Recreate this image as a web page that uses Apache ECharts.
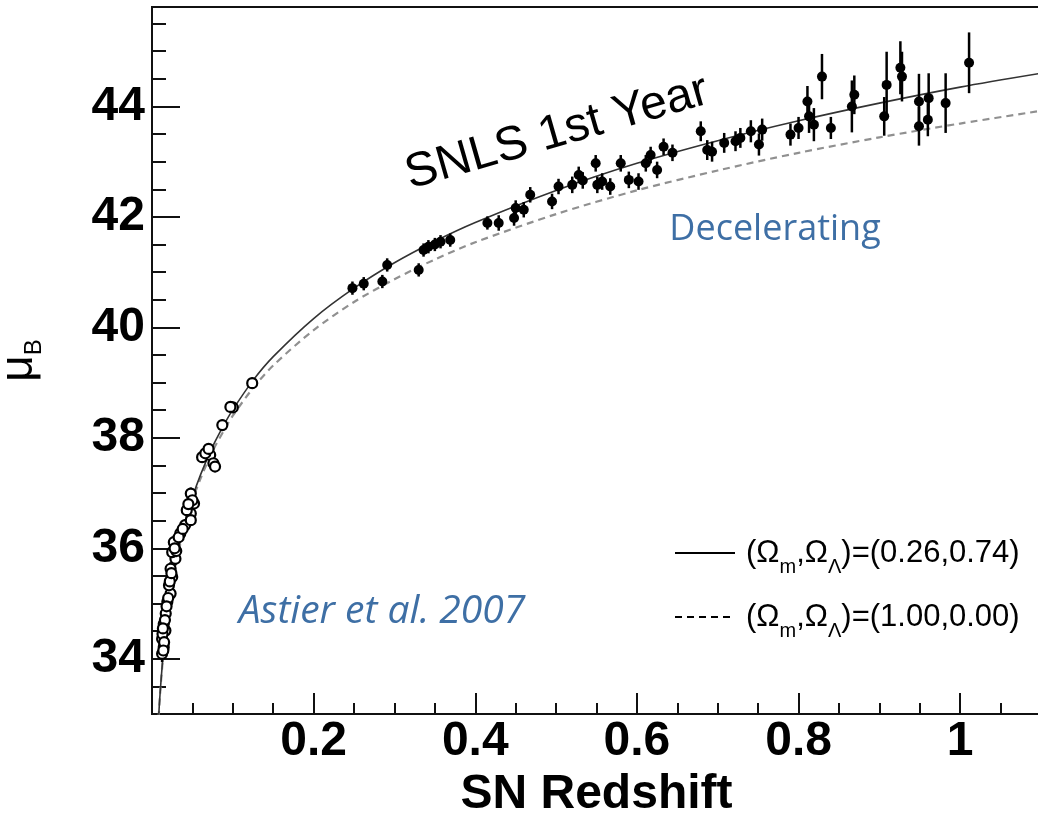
<!DOCTYPE html>
<html>
<head>
<meta charset="utf-8">
<script src="https://cdn.jsdelivr.net/npm/echarts@6/dist/echarts.min.js"></script>
<style>
  html, body { margin: 0; padding: 0; background: #fff; }
  #chart { width: 1038px; height: 815px; }
</style>
</head>
<body>
<div id="chart"></div>
<script>
// model curves
const curveZ = [0.005, 0.008, 0.01, 0.013, 0.016, 0.02, 0.025, 0.03, 0.04, 0.05, 0.06, 0.075, 0.09, 0.1, 0.125, 0.15, 0.2, 0.25, 0.3, 0.35, 0.4, 0.5, 0.6, 0.7, 0.8, 0.9, 1.0, 1.1];
const muAccel = [31.85, 32.88, 33.37, 33.94, 34.40, 34.89, 35.38, 35.79, 36.43, 36.92, 37.33, 37.84, 38.26, 38.51, 39.04, 39.47, 40.16, 40.71, 41.17, 41.56, 41.90, 42.48, 42.97, 43.38, 43.74, 44.06, 44.35, 44.60];
const muDecel = [31.85, 32.87, 33.36, 33.92, 34.38, 34.87, 35.35, 35.75, 36.37, 36.87, 37.26, 37.76, 38.16, 38.40, 38.90, 39.31, 39.95, 40.46, 40.87, 41.23, 41.54, 42.05, 42.48, 42.84, 43.16, 43.44, 43.69, 43.92];

// supernovae: [redshift, mu_B, error]
const nearbySN = [
  [0.0125, 34.09, 0.15], [0.0145, 34.21, 0.15], [0.0125, 34.36, 0.15], [0.0166, 34.51, 0.15],
  [0.0145, 34.63, 0.15], [0.017, 34.82, 0.14], [0.019, 35.03, 0.14], [0.023, 35.18, 0.12],
  [0.021, 35.33, 0.12], [0.025, 35.48, 0.12], [0.023, 35.63, 0.12], [0.029, 35.81, 0.12],
  [0.025, 35.93, 0.12], [0.027, 36.11, 0.12], [0.035, 36.27, 0.11], [0.041, 36.42, 0.11],
  [0.048, 36.63, 0.11], [0.052, 36.81, 0.11], [0.048, 36.99, 0.11], [0.043, 36.69, 0.1],
  [0.050, 36.87, 0.1], [0.048, 36.51, 0.1], [0.062, 37.65, 0.1], [0.072, 37.69, 0.1],
  [0.076, 37.54, 0.1], [0.066, 37.72, 0.1], [0.078, 37.48, 0.1], [0.087, 38.23, 0.1],
  [0.100, 38.55, 0.1], [0.097, 38.56, 0.1], [0.124, 38.99, 0.1], [0.013, 34.45, 0.15],
  [0.015, 34.30, 0.15], [0.016, 34.70, 0.15], [0.020, 35.10, 0.13], [0.022, 35.40, 0.12],
  [0.030, 35.95, 0.12], [0.033, 36.20, 0.11], [0.038, 36.35, 0.11], [0.045, 36.80, 0.1],
  [0.070, 37.80, 0.1], [0.014, 34.15, 0.15], [0.0135, 34.55, 0.15], [0.018, 34.95, 0.14],
  [0.024, 35.55, 0.12], [0.028, 36.0, 0.12]
];
const snlsSN = [
  [0.248, 40.71, 0.12], [0.262, 40.79, 0.12], [0.285, 40.83, 0.12], [0.291, 41.13, 0.12],
  [0.330, 41.04, 0.12], [0.336, 41.40, 0.12], [0.342, 41.46, 0.12], [0.350, 41.50, 0.12],
  [0.357, 41.55, 0.12], [0.369, 41.58, 0.12], [0.415, 41.89, 0.12], [0.429, 41.89, 0.14],
  [0.448, 41.98, 0.14], [0.450, 42.16, 0.14], [0.460, 42.13, 0.14], [0.468, 42.40, 0.14],
  [0.495, 42.28, 0.14], [0.503, 42.55, 0.14], [0.520, 42.58, 0.15], [0.528, 42.76, 0.15],
  [0.533, 42.66, 0.15], [0.549, 42.97, 0.15], [0.551, 42.58, 0.15], [0.557, 42.64, 0.15],
  [0.567, 42.55, 0.15], [0.580, 42.97, 0.15], [0.590, 42.67, 0.15], [0.602, 42.64, 0.15],
  [0.611, 42.97, 0.15], [0.617, 43.12, 0.15], [0.625, 42.85, 0.15], [0.633, 43.27, 0.15],
  [0.644, 43.16, 0.15], [0.679, 43.55, 0.18], [0.687, 43.21, 0.18], [0.693, 43.18, 0.18],
  [0.708, 43.34, 0.18], [0.722, 43.37, 0.18], [0.728, 43.43, 0.18], [0.741, 43.55, 0.2],
  [0.751, 43.31, 0.2], [0.755, 43.58, 0.2], [0.790, 43.49, 0.2], [0.800, 43.61, 0.2],
  [0.811, 44.09, 0.28], [0.813, 43.82, 0.3], [0.819, 43.67, 0.3], [0.829, 44.54, 0.41],
  [0.840, 43.61, 0.2], [0.866, 44.00, 0.47], [0.869, 44.21, 0.35], [0.906, 43.82, 0.35],
  [0.909, 44.39, 0.6], [0.926, 44.70, 0.48], [0.928, 44.54, 0.45], [0.949, 44.09, 0.5],
  [0.949, 43.64, 0.35], [0.961, 44.15, 0.45], [0.960, 43.76, 0.3], [0.982, 44.06, 0.54],
  [1.011, 44.79, 0.55]
];

const xLabelValues = [0.2, 0.4, 0.6, 0.8, 1.0];
const yLabelValues = [34, 36, 38, 40, 42, 44];

const AXIS = '#111';
const BLUE = '#3e6fa5';
const boldFont = { fontFamily: 'Liberation Sans', fontWeight: 'bold', fontSize: 48, color: '#000' };

const errorBars = (data, z) => ({
  type: 'custom',
  z: z,
  clip: true,
  renderItem: (params, api) => {
    const x = api.value(0), y = api.value(1), e = api.value(2);
    const lo = api.coord([x, y - e]);
    const hi = api.coord([x, y + e]);
    return {
      type: 'line',
      shape: { x1: lo[0], y1: lo[1], x2: hi[0], y2: hi[1] },
      style: { stroke: '#000', lineWidth: 2.5 }
    };
  },
  encode: { x: 0, y: 1 },
  data: data
});

const legendRich = {
  n: { fontFamily: 'Liberation Sans', fontSize: 31, fill: '#000' },
  s: { fontFamily: 'Liberation Sans', fontSize: 20, fill: '#000', verticalAlign: 'bottom', padding: [0, 0, -9, 0] }
};

const chart = echarts.init(document.getElementById('chart'));
chart.setOption({
  animation: false,
  grid: {
    left: 152, right: -3, top: 7, bottom: 101,
    outerBoundsMode: 'none', containLabel: false,
    show: true, borderColor: AXIS, borderWidth: 2
  },
  xAxis: [
    {
      type: 'value', min: 0, max: 1.1, interval: 0.05,
      axisLine: { show: true, lineStyle: { color: AXIS, width: 2 } },
      axisTick: { show: true, inside: true, length: 11, lineStyle: { color: AXIS, width: 2 } },
      axisLabel: Object.assign({
        customValues: xLabelValues, margin: 4,
        formatter: v => String(+(+v).toFixed(2))
      }, boldFont),
      splitLine: { show: false },
      name: 'SN Redshift', nameLocation: 'middle', nameGap: 54,
      nameTextStyle: boldFont
    },
    {
      type: 'value', min: 0, max: 1.1, position: 'bottom',
      axisLine: { show: false },
      axisTick: { show: true, inside: true, length: 21, customValues: xLabelValues, lineStyle: { color: AXIS, width: 2 } },
      axisLabel: { show: false },
      splitLine: { show: false }
    }
  ],
  yAxis: [
    {
      type: 'value', min: 33, max: 45.8, interval: 0.5,
      axisLine: { show: true, lineStyle: { color: AXIS, width: 2 } },
      axisTick: { show: true, inside: true, length: 14, lineStyle: { color: AXIS, width: 2 } },
      axisLabel: Object.assign({ customValues: yLabelValues, margin: 7 }, boldFont),
      splitLine: { show: false },
      name: '{mu|μ}{sub|B}', nameLocation: 'middle', nameGap: 110, nameRotate: 90,
      nameTextStyle: {
        rich: {
          mu: { fontFamily: 'Liberation Sans', fontSize: 46, color: '#000' },
          sub: { fontFamily: 'Liberation Sans', fontSize: 24, color: '#000', verticalAlign: 'bottom', padding: [0, 0, -4, 0] }
        }
      }
    },
    {
      type: 'value', min: 33, max: 45.8, position: 'left',
      axisLine: { show: false },
      axisTick: { show: true, inside: true, length: 28, customValues: yLabelValues, lineStyle: { color: AXIS, width: 2 } },
      axisLabel: { show: false },
      splitLine: { show: false }
    }
  ],
  series: [
    {
      type: 'line', name: 'decel', z: 2, smooth: 0.3, symbol: 'none',
      data: curveZ.map((z, i) => [z, muDecel[i]]),
      lineStyle: { color: '#909090', width: 2.2, type: [7, 5] }
    },
    {
      type: 'line', name: 'accel', z: 3, smooth: 0.3, symbol: 'none',
      data: curveZ.map((z, i) => [z, muAccel[i]]),
      lineStyle: { color: '#333', width: 1.6 }
    },
    errorBars(nearbySN, 4),
    {
      type: 'scatter', z: 5, symbol: 'circle', symbolSize: 10,
      data: nearbySN.map(d => [d[0], d[1]]),
      itemStyle: { color: '#fff', borderColor: '#000', borderWidth: 2.2, opacity: 1 }
    },
    errorBars(snlsSN, 6),
    {
      type: 'scatter', z: 7, symbol: 'circle', symbolSize: 10,
      data: snlsSN.map(d => [d[0], d[1]]),
      itemStyle: { color: '#000', opacity: 1 }
    }
  ],
  graphic: [
    {
      type: 'text', x: 557, y: 133, rotation: 16 * Math.PI / 180, z: 10,
      style: { text: 'SNLS 1st Year', fontFamily: 'Liberation Sans', fontSize: 48, fill: '#000',
        align: 'center', verticalAlign: 'middle', textAlign: 'center', textVerticalAlign: 'middle' }
    },
    {
      type: 'text', x: 775, y: 230, z: 10,
      style: { text: 'Decelerating', fontFamily: 'Open Sans', fontSize: 36, fill: BLUE,
        align: 'center', verticalAlign: 'middle', textAlign: 'center', textVerticalAlign: 'middle' }
    },
    {
      type: 'text', x: 382, y: 612, z: 10,
      style: { text: 'Astier et al. 2007', fontFamily: 'Open Sans', fontStyle: 'italic', fontSize: 39, fill: BLUE,
        align: 'center', verticalAlign: 'middle', textAlign: 'center', textVerticalAlign: 'middle' }
    },
    { type: 'line', z: 10, shape: { x1: 675, y1: 553, x2: 735, y2: 553 }, style: { stroke: '#000', lineWidth: 2 } },
    { type: 'line', z: 10, shape: { x1: 675, y1: 617, x2: 735, y2: 617 }, style: { stroke: '#000', lineWidth: 2, lineDash: [7, 5] } },
    {
      type: 'text', x: 746, y: 553, z: 10,
      style: {
        text: '{n|(Ω}{s|m}{n|,Ω}{s|Λ}{n|)=(0.26,0.74)}', fill: '#000',
        align: 'left', verticalAlign: 'middle', textAlign: 'left', textVerticalAlign: 'middle',
        rich: legendRich
      }
    },
    {
      type: 'text', x: 746, y: 617, z: 10,
      style: {
        text: '{n|(Ω}{s|m}{n|,Ω}{s|Λ}{n|)=(1.00,0.00)}', fill: '#000',
        align: 'left', verticalAlign: 'middle', textAlign: 'left', textVerticalAlign: 'middle',
        rich: legendRich
      }
    }
  ]
});
</script>
</body>
</html>
